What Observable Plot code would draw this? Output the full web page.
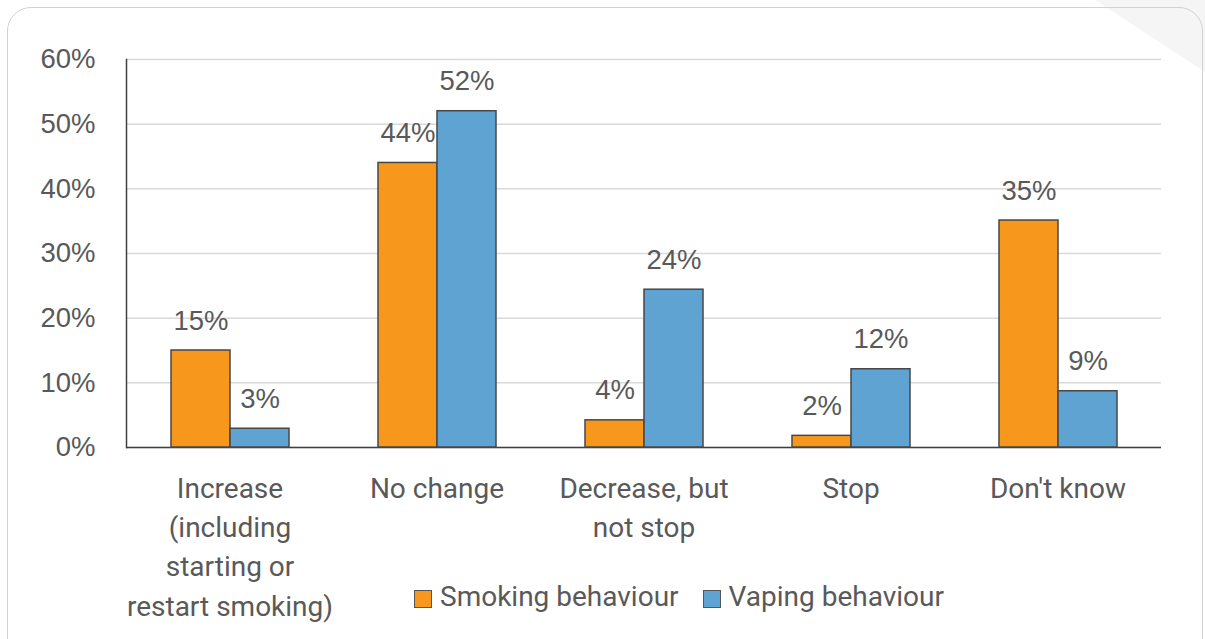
<!DOCTYPE html>
<html><head><meta charset="utf-8">
<script src="https://cdn.jsdelivr.net/npm/d3@7"></script>
<script src="https://cdn.jsdelivr.net/npm/@observablehq/plot@0.6"></script>
<style>
body{margin:0;background:#fff;}
#wrap{position:relative;width:1205px;height:639px;overflow:hidden;background:#fff;}
#shade{position:absolute;left:0;top:0;width:1205px;height:639px;background:#f5f5f5;clip-path:polygon(1095px 0,1205px 0,1205px 72px);}
#box{position:absolute;left:7px;top:7px;width:1194px;height:680px;border:1.5px solid #d2d2d2;border-radius:24px;}
#chart{position:absolute;left:0;top:0;}
#legend{position:absolute;left:414px;top:583px;display:flex;align-items:flex-start;font-family:Roboto;font-size:28px;line-height:28px;color:#595959;white-space:nowrap;}
.sw{width:16px;height:16px;border:1.5px solid #555;margin-top:7px;margin-right:8px;}
.item{display:flex;align-items:flex-start;margin-right:24px;}
</style></head>
<body>
<div id="wrap">
  <div id="shade"></div>
  <div id="box"></div>
  <div id="chart"></div>
  <div id="legend"></div>
</div>
<script>
const categories = ["Increase\n(including\nstarting or\nrestart smoking)", "No change", "Decrease, but\nnot stop", "Stop", "Don't know"];
const series = ["Smoking behaviour", "Vaping behaviour"];
const smoking = [15, 44, 4.2, 1.8, 35.1];
const vaping = [2.9, 52, 24.4, 12.1, 8.7];
const colors = ["#F7981D", "#5FA3D3"];
const yTicks = [0, 10, 20, 30, 40, 50, 60];

const data = [];
categories.forEach((c, i) => {
  data.push({category: c, series: series[0], value: smoking[i]});
  data.push({category: c, series: series[1], value: vaping[i]});
});

const chart = Plot.plot({
  width: 1205, height: 639,
  marginLeft: 124, marginRight: 42, marginTop: 59, marginBottom: 192,
  style: {fontFamily: "Liberation Sans", fontSize: "27px", color: "#595959", background: "transparent", overflow: "visible"},
  fx: {domain: categories, padding: 0, axis: null, label: null},
  x: {domain: series, paddingInner: 0, paddingOuter: 0.73, axis: null, label: null},
  y: {domain: [0, 60], axis: null, label: null},
  color: {domain: series, range: colors},
  marks: [
    Plot.gridY(yTicks, {stroke: "#d9d9d9", strokeOpacity: 1, strokeWidth: 1.5}),
    Plot.axisY(yTicks, {tickSize: 0, tickPadding: 31, tickFormat: d => d + "%", fontSize: 27.5, fill: "#595959", label: null}),
    Plot.frame({anchor: "left", facetAnchor: "left", stroke: "#404040", strokeWidth: 1.5}),
    Plot.ruleY([0], {stroke: "#404040", strokeWidth: 1.5}),
    Plot.barY(data, {fx: "category", x: "series", y: "value", fill: "series", stroke: "#474747", strokeWidth: 1.5}),
    Plot.text(data, {fx: "category", x: "series", y: "value", text: d => Math.round(d.value) + "%", lineAnchor: "bottom", dy: -21, fontSize: 27.5, fill: "#595959"}),
    Plot.text(categories, {fx: d => d, text: d => d, frameAnchor: "bottom", lineAnchor: "top", dy: 22, lineHeight: 1.41, fontFamily: "Roboto", fontSize: 28, fill: "#595959"})
  ]
});
document.getElementById("chart").appendChild(chart);

const legend = document.getElementById("legend");
series.forEach((s, i) => {
  const item = document.createElement("div");
  item.className = "item";
  const sw = document.createElement("div");
  sw.className = "sw";
  sw.style.background = colors[i];
  const t = document.createElement("span");
  t.textContent = s;
  item.appendChild(sw);
  item.appendChild(t);
  legend.appendChild(item);
});
</script>
</body></html>
